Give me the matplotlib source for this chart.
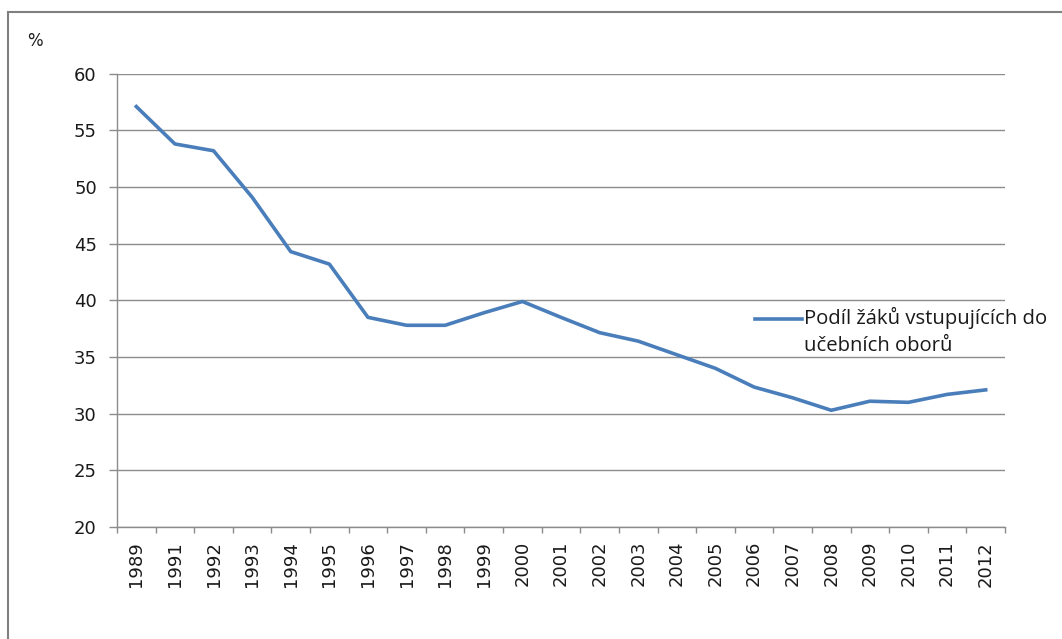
import matplotlib
matplotlib.use("Agg")
import matplotlib.pyplot as plt
from matplotlib.patches import Rectangle
from matplotlib.legend_handler import HandlerLine2D

plt.rcParams["font.family"] = ["DejaVu Sans"]

years = ["1989", "1991", "1992", "1993", "1994", "1995", "1996", "1997",
         "1998", "1999", "2000", "2001", "2002", "2003", "2004", "2005",
         "2006", "2007", "2008", "2009", "2010", "2011", "2012"]
share = [57.1, 53.8, 53.2, 49.1, 44.3, 43.2, 38.5, 37.8,
         37.8, 38.9, 39.9, 38.5, 37.15, 36.4, 35.2, 34.0,
         32.35, 31.4, 30.3, 31.1, 31.0, 31.7, 32.1]
series_label = "Podíl žáků vstupujících do\nučebních oborů"
y_ticks = [20, 25, 30, 35, 40, 45, 50, 55, 60]

line_color = "#4A7EBB"
grid_color = "#8C8C8C"
text_color = "#1a1a1a"

fig = plt.figure(figsize=(10.62, 6.39), dpi=100)
W, H = 1062, 639
ax = fig.add_axes([117 / W, 1 - 527 / H, (1005 - 117) / W, (527 - 73.7) / H])

x = list(range(len(years)))
ln, = ax.plot(x, share, color=line_color, lw=2.6, solid_joinstyle="round")

ax.set_xlim(-0.5, len(years) - 0.5)
ax.set_ylim(20, 60)
ax.set_yticks(y_ticks)
ax.set_yticklabels([str(v) for v in y_ticks], fontsize=13, color=text_color)
ax.set_xticks(x)
ax.set_xticklabels(years, rotation=90, fontsize=13, color=text_color)
ax.set_xticks([i - 0.5 for i in range(len(years) + 1)], minor=True)
ax.tick_params(axis="x", which="major", length=0, pad=10)
ax.tick_params(axis="x", which="minor", length=4.5, color=grid_color, width=1)
ax.tick_params(axis="y", length=5.5, color=grid_color, width=1, pad=9)

ax.grid(axis="y", color=grid_color, lw=1)
ax.set_axisbelow(True)
for s in ["top", "right"]:
    ax.spines[s].set_visible(False)
for s in ["left", "bottom"]:
    ax.spines[s].set_color(grid_color)
    ax.spines[s].set_linewidth(1)

fig.text(27 / W, 1 - 41 / H, "%", fontsize=12, color=text_color, va="center")


class TopLine(HandlerLine2D):
    # Excel puts the legend key next to the first text line
    def create_artists(self, legend, orig_handle, xdescent, ydescent,
                       width, height, fontsize, trans):
        arts = super().create_artists(legend, orig_handle, xdescent, ydescent,
                                      width, height, fontsize, trans)
        for a in arts:
            yd = a.get_ydata()
            a.set_ydata([v + fontsize * 0.62 for v in yd])
        return arts


leg = fig.legend([ln], [series_label], loc="center left",
                 bbox_to_anchor=(737 / W, 1 - 331.5 / H), frameon=False,
                 handlelength=2.3, handletextpad=0.12,
                 prop={"family": "Open Sans", "size": 14.6},
                 handler_map={ln: TopLine()})
for t in leg.get_texts():
    t.set_linespacing(1.42)
    t.set_color(text_color)

fig.patches.append(Rectangle((8 / W, -0.1), 1.2, 1 - 12 / H + 0.1,
                             transform=fig.transFigure, fill=False,
                             edgecolor="#808080", lw=1.5))

fig.savefig("out.png", dpi=100)
